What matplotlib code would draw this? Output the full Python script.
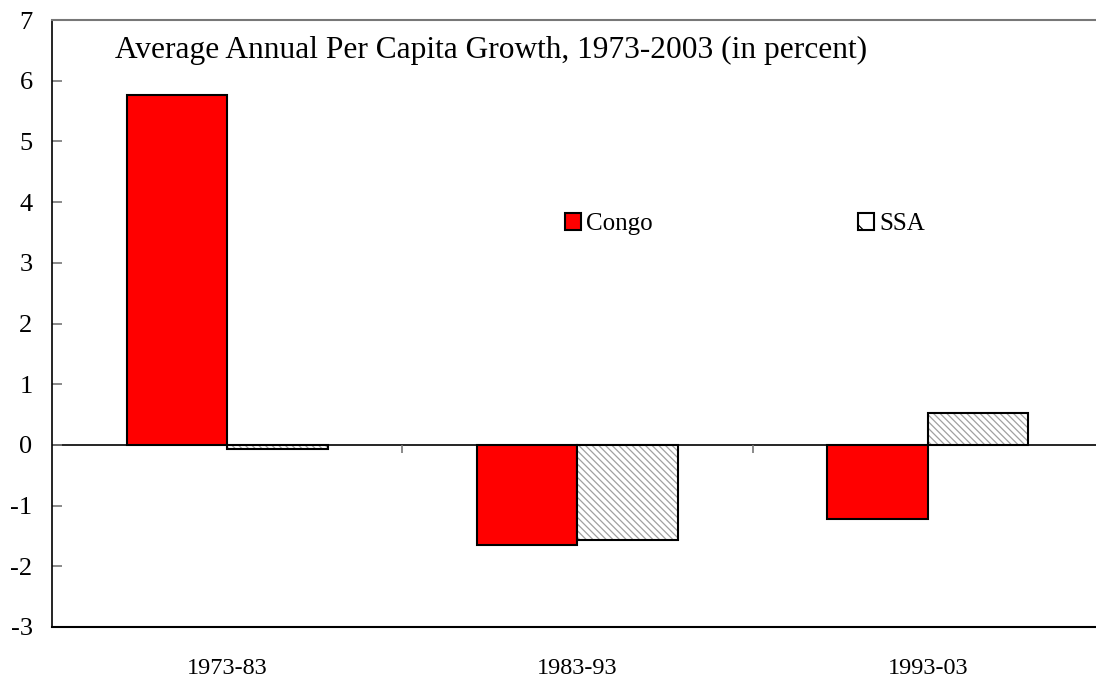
import numpy as np
import matplotlib.pyplot as plt
from matplotlib.patches import Patch

plt.rcParams['font.family'] = ['Liberation Serif', 'DejaVu Serif']
plt.rcParams['axes.unicode_minus'] = False
plt.rcParams['hatch.linewidth'] = 0.9

# --- данные ---
periods = ['1973-83', '1983-93', '1993-03']
congo = [5.76, -1.65, -1.22]
ssa = [-0.06, -1.56, 0.53]
y_ticks = [-3, -2, -1, 0, 1, 2, 3, 4, 5, 6, 7]

fig = plt.figure(figsize=(10.96, 6.79), dpi=100)
ax = fig.add_axes([0.0474, 0.0766, 0.9526, 0.8939])

x = np.arange(len(periods))
w = 0.287
ax.bar(x - w / 2, congo, w, color='#ff0000', edgecolor='black', linewidth=1.5, label='Congo')
# штриховка серым, контур отдельно чёрным
ax.bar(x + w / 2, ssa, w, color='white', edgecolor='#a0a0a0', linewidth=0,
       hatch='\\\\\\\\\\')
ax.bar(x + w / 2, ssa, w, fill=False, edgecolor='black', linewidth=1.5)

# линия нуля и засечки между категориями
ax.axhline(0, color='black', linewidth=1.2, zorder=1)
ax.vlines(x[:-1] + 0.5, -0.13, 0, color='#777777', linewidth=1.2)

ax.set_xlim(-0.5, 2.48)
ax.set_ylim(-3, 7)
ax.set_yticks(y_ticks)
ax.set_xticks(x)
ax.set_xticklabels(periods)
ax.tick_params(axis='x', length=0, pad=22, labelsize=17.5)
ax.tick_params(axis='y', direction='in', length=7, width=1.2, color='#777777',
               pad=14, labelsize=19)

ax.spines['right'].set_visible(False)
ax.spines['top'].set_color('#777777')
ax.spines['top'].set_linewidth(1.5)
ax.spines['left'].set_linewidth(1.2)
ax.spines['bottom'].set_linewidth(1.5)

ax.text(0.06, 0.95, 'Average Annual Per Capita Growth, 1973-2003 (in percent)',
        transform=ax.transAxes, fontsize=22.6, va='center', ha='left')

handles = [Patch(facecolor='#ff0000', edgecolor='black', linewidth=1.5),
           Patch(facecolor='white', edgecolor='black', linewidth=1.5, hatch='\\')]
ax.legend(handles, ['Congo', 'SSA'], ncol=2, frameon=False, fontsize=18,
          handlelength=0.65, handleheight=0.65, handletextpad=0.2,
          columnspacing=8.2, loc='center left', bbox_to_anchor=(0.47, 0.664))

fig.savefig('out.png', dpi=100)
